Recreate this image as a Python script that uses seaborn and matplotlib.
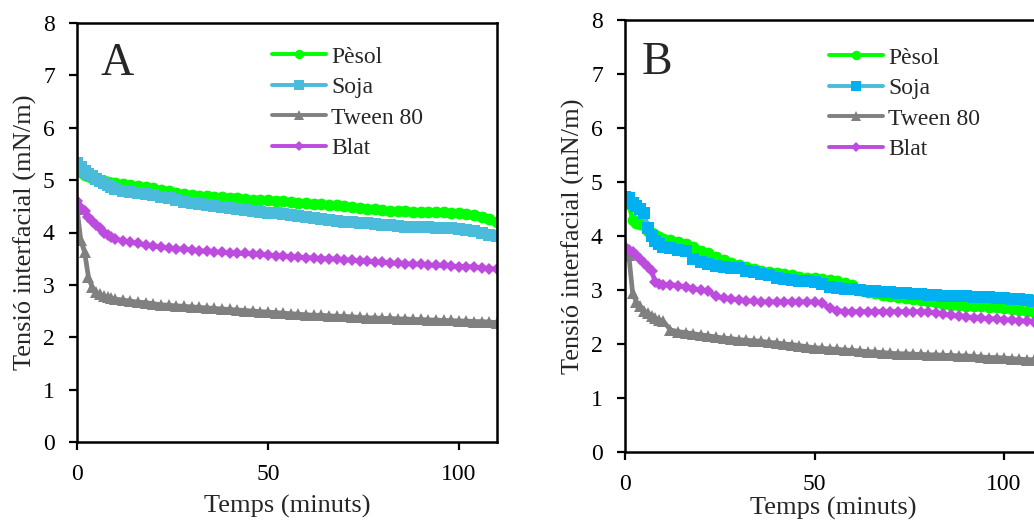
import numpy as np
import pandas as pd
import matplotlib
matplotlib.use("Agg")
import matplotlib.pyplot as plt
import seaborn as sns

# ---------------- data ----------------
temps = [0, 1, 2, 3, 4, 5, 6, 7, 8, 9, 10,
         12, 14, 16, 18, 20, 22, 24, 26, 28, 30, 32, 34, 36, 38, 40,
         42, 44, 46, 48, 50, 52, 54, 56, 58, 60, 62, 64, 66, 68, 70,
         72, 74, 76, 78, 80, 82, 84, 86, 88, 90, 92, 94, 96, 98, 100,
         102, 104, 106, 108, 110]

series_names = ["Pèsol", "Soja", "Tween 80", "Blat"]

# Panel A
pesol_A = [5.20, 5.15, 5.10, 5.07, 5.04, 5.02, 5.00, 4.98, 4.96, 4.95, 4.94,
           4.92, 4.90, 4.88, 4.86, 4.85, 4.82, 4.79, 4.76, 4.74, 4.72, 4.70, 4.69, 4.68, 4.67, 4.66,
           4.65, 4.64, 4.63, 4.62, 4.62, 4.61, 4.60, 4.59, 4.57, 4.56, 4.55, 4.54, 4.53, 4.52, 4.51,
           4.49, 4.47, 4.45, 4.44, 4.43, 4.42, 4.41, 4.41, 4.40, 4.40, 4.40, 4.40, 4.39, 4.38, 4.37,
           4.35, 4.33, 4.30, 4.25, 4.20]
soja_A = [5.32, 5.25, 5.18, 5.12, 5.07, 5.02, 4.98, 4.94, 4.90, 4.87, 4.84,
          4.80, 4.77, 4.75, 4.73, 4.71, 4.68, 4.65, 4.62, 4.59, 4.56, 4.54, 4.52, 4.50, 4.48, 4.46,
          4.44, 4.43, 4.41, 4.40, 4.38, 4.37, 4.36, 4.34, 4.32, 4.30, 4.28, 4.26, 4.24, 4.22, 4.21,
          4.20, 4.19, 4.18, 4.16, 4.15, 4.14, 4.12, 4.11, 4.10, 4.10, 4.10, 4.09, 4.09, 4.08, 4.06,
          4.04, 4.02, 4.00, 3.96, 3.93]
tween_A = [4.45, 3.85, 3.62, 3.15, 2.95, 2.86, 2.82, 2.79, 2.77, 2.75, 2.73,
           2.71, 2.69, 2.67, 2.66, 2.64, 2.62, 2.61, 2.60, 2.59, 2.58, 2.57, 2.56, 2.55, 2.54, 2.53,
           2.52, 2.51, 2.50, 2.49, 2.48, 2.47, 2.46, 2.45, 2.44, 2.43, 2.42, 2.42, 2.41, 2.40, 2.40,
           2.39, 2.38, 2.37, 2.37, 2.36, 2.36, 2.35, 2.35, 2.34, 2.34, 2.33, 2.33, 2.32, 2.32, 2.31,
           2.31, 2.30, 2.30, 2.29, 2.28]
blat_A = [4.60, 4.47, 4.42, 4.30, 4.22, 4.15, 4.08, 4.00, 3.95, 3.92, 3.88,
          3.84, 3.81, 3.79, 3.76, 3.74, 3.72, 3.70, 3.69, 3.68, 3.67, 3.65, 3.64, 3.63, 3.62, 3.61,
          3.60, 3.60, 3.59, 3.58, 3.57, 3.56, 3.55, 3.54, 3.53, 3.52, 3.51, 3.50, 3.50, 3.49, 3.48,
          3.47, 3.46, 3.45, 3.44, 3.43, 3.42, 3.41, 3.40, 3.40, 3.39, 3.38, 3.37, 3.37, 3.36, 3.35,
          3.35, 3.34, 3.33, 3.31, 3.30]

# Panel B
pesol_B = [4.70, 4.60, 4.30, 4.25, 4.22, 4.20, 4.10, 4.05, 4.02, 3.98, 3.95,
           3.92, 3.88, 3.86, 3.80, 3.73, 3.68, 3.62, 3.56, 3.50, 3.46, 3.42, 3.38, 3.36, 3.33, 3.31,
           3.29, 3.27, 3.25, 3.23, 3.22, 3.20, 3.18, 3.16, 3.13, 3.10, 3.00, 2.97, 2.94, 2.91, 2.89,
           2.87, 2.85, 2.83, 2.81, 2.79, 2.77, 2.75, 2.73, 2.72, 2.71, 2.70, 2.70, 2.69, 2.68, 2.67,
           2.65, 2.63, 2.61, 2.60, 2.58]
soja_B = [4.72, 4.70, 4.62, 4.55, 4.50, 4.42, 4.15, 4.00, 3.90, 3.85, 3.80,
          3.78, 3.75, 3.72, 3.58, 3.52, 3.49, 3.45, 3.42, 3.41, 3.40, 3.36, 3.33, 3.30, 3.27, 3.22,
          3.20, 3.18, 3.17, 3.16, 3.15, 3.12, 3.05, 3.03, 3.02, 3.02, 3.00, 2.99, 2.98, 2.97, 2.96,
          2.95, 2.94, 2.93, 2.92, 2.91, 2.90, 2.89, 2.88, 2.88, 2.88, 2.87, 2.87, 2.87, 2.86, 2.86,
          2.84, 2.83, 2.82, 2.80, 2.78]
tween_B = [3.70, 3.65, 2.95, 2.78, 2.70, 2.62, 2.57, 2.52, 2.48, 2.45, 2.43,
           2.26, 2.23, 2.21, 2.19, 2.17, 2.15, 2.13, 2.11, 2.10, 2.08, 2.07, 2.06, 2.05, 2.03, 2.02,
           2.00, 1.99, 1.97, 1.95, 1.93, 1.92, 1.91, 1.90, 1.89, 1.88, 1.87, 1.86, 1.85, 1.84, 1.83,
           1.82, 1.82, 1.81, 1.81, 1.80, 1.80, 1.79, 1.79, 1.78, 1.78, 1.77, 1.76, 1.75, 1.75, 1.74,
           1.73, 1.72, 1.71, 1.71, 1.70]
blat_B = [3.80, 3.75, 3.70, 3.65, 3.58, 3.50, 3.42, 3.35, 3.15, 3.12, 3.10,
          3.10, 3.08, 3.06, 3.02, 3.00, 2.98, 2.88, 2.85, 2.83, 2.82, 2.80, 2.79, 2.78, 2.78, 2.78,
          2.78, 2.78, 2.78, 2.78, 2.78, 2.76, 2.66, 2.62, 2.60, 2.60, 2.60, 2.60, 2.60, 2.60, 2.60,
          2.60, 2.60, 2.60, 2.60, 2.59, 2.57, 2.55, 2.53, 2.51, 2.50, 2.49, 2.48, 2.47, 2.46, 2.45,
          2.44, 2.43, 2.42, 2.41, 2.40]

x_ticks = [0, 50, 100]
y_ticks = [0, 1, 2, 3, 4, 5, 6, 7, 8]
x_label = "Temps (minuts)"
y_label = "Tensió interfacial (mN/m)"
panel_labels = ["A", "B"]

# ---------------- style ----------------
sns.set_style("white")
plt.rcParams["font.family"] = ["Liberation Serif", "DejaVu Serif"]

green = "#00FF00"
soja_line = "#4BBBDB"
soja_B_marker = "#00B0F0"
gray = "#808080"
purple = "#BD4BDD"

fig = plt.figure(figsize=(10.34, 5.21), dpi=100)
axA = fig.add_axes([77 / 1034, 1 - 442 / 521, 420 / 1034, (442 - 23) / 521])
axB = fig.add_axes([625 / 1034, 1 - 452 / 521, 417 / 1034, (452 - 20) / 521])

styles = {
    "Pèsol": dict(marker="o", markersize=8.5),
    "Soja": dict(marker="s", markersize=8.5),
    "Tween 80": dict(marker="^", markersize=8.5),
    "Blat": dict(marker="D", markersize=6.5),
}


def draw(ax, data, soja_mc, panel, panel_x, leg_anchor, xlabel_pad, ylabel_pad):
    colors = {"Pèsol": green, "Soja": soja_line, "Tween 80": gray, "Blat": purple}
    mcolors = {"Pèsol": green, "Soja": soja_mc, "Tween 80": gray, "Blat": purple}
    for name in series_names:
        df = pd.DataFrame({"t": temps, "v": data[name]})
        sns.lineplot(data=df, x="t", y="v", ax=ax, color=colors[name],
                     linewidth=3.4, markerfacecolor=mcolors[name],
                     markeredgecolor=mcolors[name], markeredgewidth=0,
                     label=name, **styles[name])
    ax.set_xlim(0, 110)
    ax.set_ylim(0, 8)
    ax.set_xticks(x_ticks)
    ax.set_yticks(y_ticks)
    ax.set_xlabel(x_label, fontsize=19, labelpad=xlabel_pad)
    ax.set_ylabel(y_label, fontsize=19, labelpad=ylabel_pad)
    ax.tick_params(axis="both", direction="out", length=6, width=1.6,
                   labelsize=17, colors="black", bottom=True, left=True)
    ax.tick_params(axis="y", pad=10)
    ax.tick_params(axis="x", pad=10)
    for s in ax.spines.values():
        s.set_color("black")
        s.set_linewidth(1.8)
    ax.text(panel_x, 0.875, panel, transform=ax.transAxes, fontsize=33,
            ha="left", va="baseline")
    leg = ax.legend(loc="upper left", bbox_to_anchor=leg_anchor,
                    bbox_transform=fig.transFigure, frameon=False,
                    fontsize=17, handlelength=2.3, handletextpad=0.2,
                    labelspacing=0.38, borderpad=0, borderaxespad=0,
                    numpoints=1, markerscale=0.8)
    for h in leg.legend_handles:
        h.set_linewidth(2.8)


draw(axA, {"Pèsol": pesol_A, "Soja": soja_A, "Tween 80": tween_A, "Blat": blat_A},
     soja_line, panel_labels[0], 0.055, (272 / 1034, 1 - 46 / 521), 7, 4)
draw(axB, {"Pèsol": pesol_B, "Soja": soja_B, "Tween 80": tween_B, "Blat": blat_B},
     soja_B_marker, panel_labels[1], 0.041, (829 / 1034, 1 - 47 / 521), 1, 4.5)

fig.savefig("out.png", dpi=100)
